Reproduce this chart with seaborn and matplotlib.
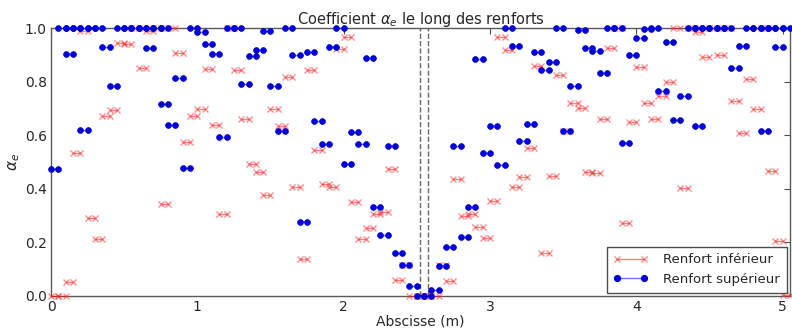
import numpy as np
import pandas as pd
import matplotlib
matplotlib.use("Agg")
import matplotlib.pyplot as plt
from matplotlib.lines import Line2D
import seaborn as sns

# ---- data: element start abscissa (m) and alpha_e value ----
inf_x = [0.00, 0.05, 0.10, 0.15, 0.20, 0.25, 0.30, 0.35, 0.40, 0.45, 0.50, 0.55,
         0.60, 0.65, 0.70, 0.75, 0.80, 0.85, 0.90, 0.95, 1.00, 1.05, 1.10, 1.15,
         1.20, 1.25, 1.30, 1.35, 1.40, 1.45, 1.50, 1.55, 1.60, 1.65, 1.70, 1.75,
         1.80, 1.85, 1.90, 1.95, 2.00, 2.05, 2.10, 2.15, 2.20, 2.25, 2.30, 2.35,
         2.40, 2.45, 2.50, 2.55, 2.60, 2.65, 2.70, 2.75, 2.80, 2.85, 2.90, 2.95,
         3.00, 3.05, 3.10, 3.15, 3.20, 3.25, 3.30, 3.35, 3.40, 3.45, 3.50, 3.55,
         3.60, 3.65, 3.70, 3.75, 3.80, 3.85, 3.90, 3.95, 4.00, 4.05, 4.10, 4.15,
         4.20, 4.25, 4.30, 4.35, 4.40, 4.45, 4.50, 4.55, 4.60, 4.65, 4.70, 4.75,
         4.80, 4.85, 4.90, 4.95, 5.00]
inf_alpha = [0.0, 0.0, 0.051, 0.532, 0.989, 0.290, 0.213, 0.670, 0.694, 0.944, 0.939, 1.0,
             0.849, 0.989, 1.0, 0.342, 1.0, 0.908, 0.576, 0.670, 0.699, 0.848, 0.638, 0.307,
             1.0, 0.844, 0.662, 0.491, 0.462, 0.378, 0.696, 0.635, 0.819, 0.408, 0.139, 0.843,
             0.543, 0.419, 0.407, 0.921, 0.967, 0.352, 0.212, 0.252, 0.305, 0.315, 0.473, 0.059,
             0.117, 0.0, 0.0, 0.0, 0.0, 0.117, 0.056, 0.438, 0.297, 0.307, 0.258, 0.216,
             0.355, 0.966, 0.918, 0.406, 0.444, 0.554, 0.859, 0.160, 0.449, 0.824, 0.617, 0.719,
             0.702, 0.462, 0.458, 0.659, 0.926, 1.0, 0.271, 0.648, 0.854, 0.719, 0.662, 0.745,
             0.799, 1.0, 0.404, 1.0, 0.986, 0.893, 1.0, 0.898, 1.0, 0.727, 0.607, 0.808,
             0.698, 1.0, 0.467, 0.206, 0.005]

sup_x = [0.00, 0.05, 0.10, 0.10, 0.15, 0.20, 0.20, 0.25, 0.30, 0.35, 0.40, 0.45,
         0.50, 0.55, 0.60, 0.65, 0.65, 0.70, 0.75, 0.75, 0.80, 0.85, 0.90, 0.95,
         1.00, 1.05, 1.10, 1.15, 1.20, 1.25, 1.30, 1.35, 1.40, 1.45, 1.50, 1.55,
         1.60, 1.65, 1.70, 1.75, 1.80, 1.85, 1.90, 1.95, 2.00, 2.05, 2.10, 2.15,
         2.20, 2.25, 2.30, 2.35, 2.40, 2.45, 2.50, 2.55, 2.60, 2.65, 2.70, 2.75,
         2.80, 2.85, 2.90, 2.95, 3.00, 3.05, 3.10, 3.15, 3.20, 3.25, 3.30, 3.35,
         3.40, 3.45, 3.50, 3.55, 3.60, 3.65, 3.70, 3.75, 3.80, 3.85, 3.90, 3.95,
         4.00, 4.05, 4.10, 4.15, 4.20, 4.25, 4.30, 4.35, 4.40, 4.40, 4.45, 4.50,
         4.55, 4.60, 4.65, 4.70, 4.75, 4.80, 4.85, 4.85, 4.90, 4.95, 4.95, 5.00]
sup_alpha = [0.473, 1.0, 1.0, 0.904, 1.0, 1.0, 0.620, 1.0, 1.0, 0.929, 0.783, 1.0,
             1.0, 1.0, 1.0, 1.0, 0.926, 1.0, 1.0, 0.717, 0.637, 0.813, 0.478, 1.0,
             0.984, 0.939, 0.904, 0.593, 1.0, 1.0, 0.791, 0.896, 0.919, 0.989, 0.782, 0.617,
             1.0, 0.899, 0.276, 0.909, 0.653, 0.568, 0.931, 1.0, 0.491, 0.613, 0.566, 0.888,
             0.333, 0.226, 0.561, 0.160, 0.116, 0.036, 0.0, 0.0, 0.021, 0.111, 0.182, 0.561,
             0.220, 0.332, 0.883, 0.532, 0.633, 0.488, 1.0, 0.933, 0.577, 0.643, 0.909, 0.842,
             0.873, 1.0, 0.617, 0.785, 0.991, 0.926, 0.913, 0.831, 1.0, 1.0, 0.572, 0.899,
             0.964, 0.995, 1.0, 0.764, 0.949, 0.658, 0.746, 1.0, 1.0, 0.635, 1.0, 1.0,
             1.0, 1.0, 0.849, 0.933, 1.0, 1.0, 1.0, 0.614, 1.0, 1.0, 0.929, 1.0]

mid_lines = [2.525, 2.575]
labels = ["Renfort inférieur", "Renfort supérieur"]
element_length = 0.05


def segments(xs, ys):
    rows = []
    for i, (x0, a) in enumerate(zip(xs, ys)):
        rows.append((x0, a, i))
        rows.append((x0 + element_length, a, i))
    return pd.DataFrame(rows, columns=["x", "alpha", "seg"])


df_inf = segments(inf_x, inf_alpha)
df_sup = segments(sup_x, sup_alpha)

sns.set_style("white")
plt.rcParams["font.family"] = ["DejaVu Sans"]
plt.rcParams["mathtext.fontset"] = "dejavusans"

fig = plt.figure(figsize=(7.92, 3.28), dpi=100)
ax = fig.add_axes([0.0644, 0.0976, 0.933, 0.817])

red_line = (1.0, 0.0, 0.0, 0.5)
red_mark = (1.0, 0.2, 0.2, 0.55)
blue = (0.0, 0.0, 0.85)

sns.lineplot(data=df_inf, x="x", y="alpha", units="seg", estimator=None, sort=False,
             ax=ax, color=red_line, lw=1.0, marker="x", markersize=4.5,
             markeredgecolor=red_mark, markeredgewidth=1.0, legend=False, clip_on=False,
             zorder=3)
sns.lineplot(data=df_sup, x="x", y="alpha", units="seg", estimator=None, sort=False,
             ax=ax, color=(0.2, 0.2, 1.0, 0.7), lw=1.0, marker="o", markersize=4.2,
             markerfacecolor=blue, markeredgecolor=blue, markeredgewidth=0.5,
             legend=False, clip_on=False, zorder=4)

for xv in mid_lines:
    ax.axvline(xv, color="0.4", ls="--", lw=1.0, zorder=2)

ax.set_xlim(0, 5.05)
ax.set_ylim(0, 1.0)
ax.set_xticks([0, 1, 2, 3, 4, 5])
ax.set_yticks([0.0, 0.2, 0.4, 0.6, 0.8, 1.0])
ax.set_yticklabels(["0.0", "0.2", "0.4", "0.6", "0.8", "1.0"])
ax.tick_params(direction="in", top=True, right=True, length=4, labelsize=10,
               color="0.3", pad=3)
for s in ax.spines.values():
    s.set_color("0.35")
    s.set_linewidth(1.0)

ax.set_title(r"Coefficient $\alpha_e$ le long des renforts", fontsize=10.5, pad=3)
ax.set_xlabel("Abscisse (m)", fontsize=10, labelpad=0)
ax.set_ylabel(r"$\alpha_e$", fontsize=11, labelpad=2)

handles = [
    Line2D([0], [0], color=red_line, lw=1.0, marker="x", markersize=4.5,
           markeredgecolor=red_mark, markeredgewidth=1.0),
    Line2D([0], [0], color=(0.2, 0.2, 1.0, 0.7), lw=1.0, marker="o", markersize=4.2,
           markerfacecolor=blue, markeredgecolor=blue),
]
leg = ax.legend(handles, labels, loc="lower right", numpoints=2, fancybox=False,
                fontsize=9.5, framealpha=1.0, borderaxespad=0.25, handlelength=2.6,
                handletextpad=1.2, borderpad=0.5, labelspacing=0.5)
leg.get_frame().set_edgecolor("0.3")
leg.set_zorder(10)

fig.savefig("out.png", dpi=100)
